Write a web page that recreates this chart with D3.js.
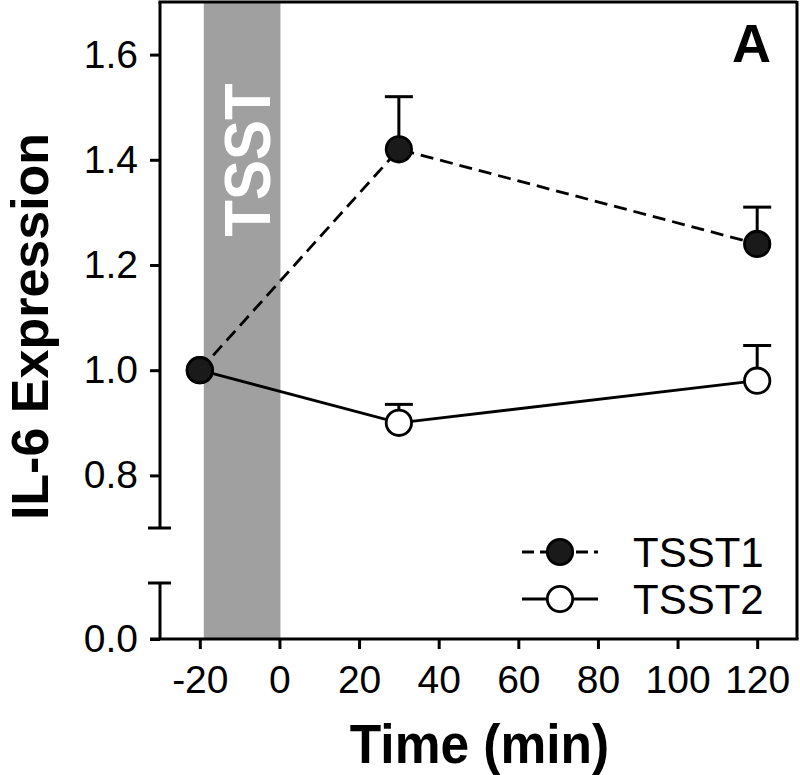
<!DOCTYPE html>
<html>
<head>
<meta charset="utf-8">
<script src="https://cdn.jsdelivr.net/npm/d3@7"></script>
<style>
  html, body { margin: 0; padding: 0; background: #fff; }
  svg { display: block; font-family: "Liberation Sans", Arial, Helvetica, sans-serif; }
</style>
</head>
<body>
<svg id="chart" width="800" height="775"></svg>
<script>
// ---- data ----
const times = [-20, 30, 120];
const tsst1 = [1.00, 1.42, 1.24];
const tsst1Err = [0, 0.10, 0.07];
const tsst2 = [1.00, 0.90, 0.98];
const tsst2Err = [0, 0.035, 0.067];
const seriesNames = ["TSST1", "TSST2"];
const xTicks = [-20, 0, 20, 40, 60, 80, 100, 120];
const yTicksUpper = [0.8, 1.0, 1.2, 1.4, 1.6];
const yTicksLower = [0.0];
const tsstWindow = [-19, 0];

// ---- layout ----
const svg = d3.select("#chart");
const L = 160, R = 797, T = 2, B = 639;
const breakTop = 528, breakBottom = 583;

const x = d3.scaleLinear().domain([-30, 130]).range([L, R]);
const yU = d3.scaleLinear().domain([0.7, 1.7]).range([breakTop, T]);
const yL = d3.scaleLinear().domain([0, 0.1067]).range([B, breakBottom]);

const lw = 3;

// TSST band
svg.append("rect")
  .attr("x", x(tsstWindow[0])).attr("y", T)
  .attr("width", x(tsstWindow[1]) - x(tsstWindow[0]) + 1)
  .attr("height", B - T)
  .attr("fill", "#a0a0a0");

svg.append("text")
  .attr("transform", `translate(270,160) rotate(-90) scale(1,1.09)`)
  .attr("text-anchor", "middle")
  .attr("font-weight", "bold")
  .attr("font-size", 60)
  .attr("fill", "#fff")
  .text("TSST");

// frame: top and right
svg.append("line").attr("x1", L - lw/2).attr("x2", R).attr("y1", T).attr("y2", T)
  .attr("stroke", "#000").attr("stroke-width", lw);
svg.append("line").attr("x1", R).attr("x2", R).attr("y1", T - 1).attr("y2", B)
  .attr("stroke", "#000").attr("stroke-width", lw);

// left axis broken segments
svg.append("line").attr("x1", L).attr("x2", L).attr("y1", T).attr("y2", breakTop)
  .attr("stroke", "#000").attr("stroke-width", lw);
svg.append("line").attr("x1", L - 12).attr("x2", L + 11).attr("y1", breakTop).attr("y2", breakTop)
  .attr("stroke", "#000").attr("stroke-width", lw);
svg.append("line").attr("x1", L).attr("x2", L).attr("y1", breakBottom).attr("y2", B)
  .attr("stroke", "#000").attr("stroke-width", lw);
svg.append("line").attr("x1", L - 12).attr("x2", L + 11).attr("y1", breakBottom).attr("y2", breakBottom)
  .attr("stroke", "#000").attr("stroke-width", lw);

// bottom axis line
svg.append("line").attr("x1", L - 10).attr("x2", R + lw/2).attr("y1", B).attr("y2", B)
  .attr("stroke", "#000").attr("stroke-width", lw);

function styleAxis(g) {
  g.select(".domain").remove();
  g.selectAll(".tick line").attr("stroke", "#000").attr("stroke-width", lw);
  g.selectAll(".tick text").attr("font-size", 39).attr("fill", "#000")
    .attr("font-family", "'Liberation Sans', Arial, sans-serif");
}

svg.append("g").attr("transform", `translate(${L},0)`)
  .call(d3.axisLeft(yU).tickValues(yTicksUpper).tickFormat(d3.format(".1f")).tickSize(10).tickPadding(12))
  .call(styleAxis);
svg.append("g").attr("transform", `translate(${L},0)`)
  .call(d3.axisLeft(yL).tickValues(yTicksLower).tickFormat(d3.format(".1f")).tickSize(10).tickPadding(12))
  .call(styleAxis);
svg.append("g").attr("transform", `translate(0,${B})`)
  .call(d3.axisBottom(x).tickValues(xTicks).tickFormat(d => String(d)).tickSize(10).tickPadding(16))
  .call(styleAxis);

// axis titles
svg.append("text")
  .attr("transform", `translate(${(L + R) / 2 + 1},763) scale(1,1.08)`)
  .attr("text-anchor", "middle").attr("font-weight", "bold").attr("font-size", 51.5)
  .text("Time (min)");
svg.append("text")
  .attr("transform", `translate(48,${(T + B) / 2 + 6}) rotate(-90)`)
  .attr("text-anchor", "middle").attr("font-weight", "bold").attr("font-size", 52)
  .text("IL-6 Expression");

// panel letter
svg.append("text")
  .attr("x", 771).attr("y", 62).attr("text-anchor", "end")
  .attr("font-weight", "bold").attr("font-size", 54).text("A");

// series
const line = d3.line().x(d => x(d.t)).y(d => yU(d.v));
const s1 = times.map((t, i) => ({ t, v: tsst1[i], e: tsst1Err[i] }));
const s2 = times.map((t, i) => ({ t, v: tsst2[i], e: tsst2Err[i] }));

svg.append("path").datum(s2).attr("d", line)
  .attr("fill", "none").attr("stroke", "#000").attr("stroke-width", 2.8);
svg.append("path").datum(s1).attr("d", line)
  .attr("fill", "none").attr("stroke", "#000").attr("stroke-width", 2.8)
  .attr("stroke-dasharray", "13,7");

function errBars(data) {
  const g = svg.append("g");
  data.filter(d => d.e > 0).forEach(d => {
    g.append("line").attr("x1", x(d.t)).attr("x2", x(d.t))
      .attr("y1", yU(d.v)).attr("y2", yU(d.v + d.e))
      .attr("stroke", "#000").attr("stroke-width", 3);
    g.append("line").attr("x1", x(d.t) - 14).attr("x2", x(d.t) + 14)
      .attr("y1", yU(d.v + d.e)).attr("y2", yU(d.v + d.e))
      .attr("stroke", "#000").attr("stroke-width", 3);
  });
}
errBars(s2);
errBars(s1);

const r = 12.7;
svg.append("g").selectAll("circle").data(s2).join("circle")
  .attr("cx", d => x(d.t)).attr("cy", d => yU(d.v)).attr("r", r)
  .attr("fill", "#fff").attr("stroke", "#000").attr("stroke-width", 2.8);
svg.append("g").selectAll("circle").data(s1).join("circle")
  .attr("cx", d => x(d.t)).attr("cy", d => yU(d.v)).attr("r", r)
  .attr("fill", "#1a1a1a").attr("stroke", "#000").attr("stroke-width", 2.8);

// legend
const legend = [
  { name: seriesNames[0], y: 552, fill: "#1a1a1a", dash: "12,6" },
  { name: seriesNames[1], y: 599, fill: "#fff", dash: null }
];
legend.forEach(l => {
  svg.append("line").attr("x1", 522).attr("x2", 598).attr("y1", l.y).attr("y2", l.y)
    .attr("stroke", "#000").attr("stroke-width", 2.8)
    .attr("stroke-dasharray", l.dash);
  svg.append("circle").attr("cx", 560).attr("cy", l.y).attr("r", r)
    .attr("fill", l.fill).attr("stroke", "#000").attr("stroke-width", 2.8);
  svg.append("text").attr("x", 633).attr("y", l.y + 15)
    .attr("font-size", 42).text(l.name);
});
</script>
</body>
</html>
